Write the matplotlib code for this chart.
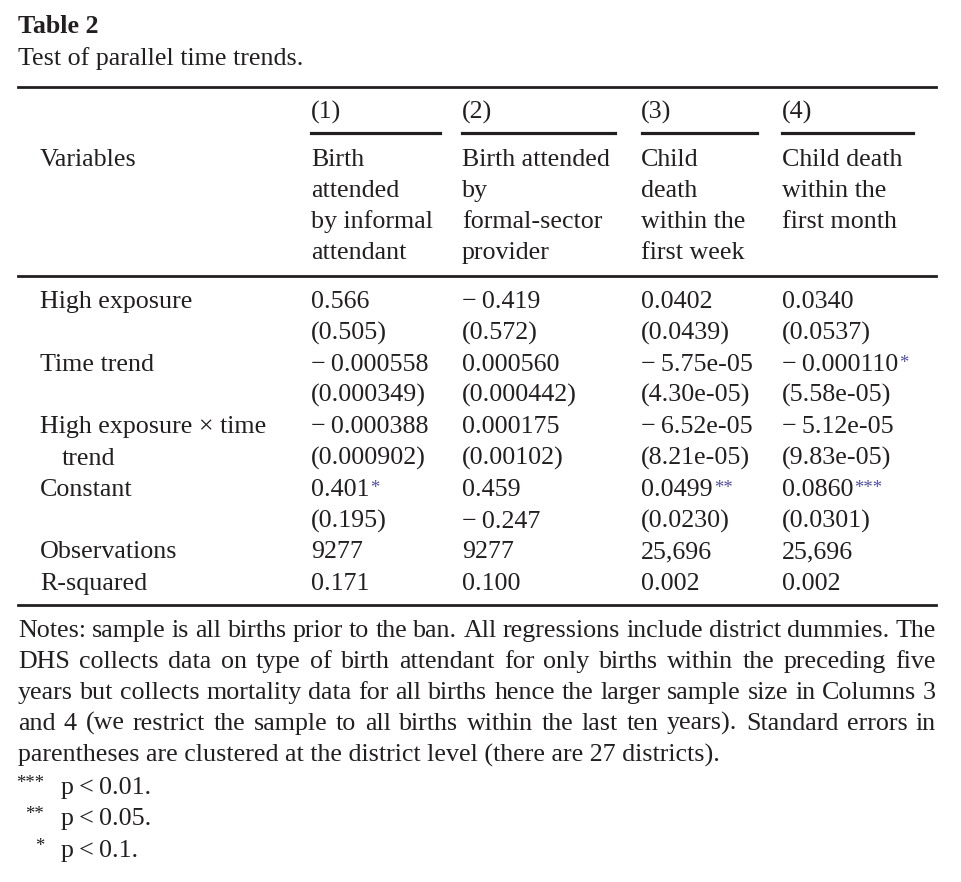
import matplotlib
matplotlib.use("Agg")
import matplotlib.pyplot as plt
from matplotlib.lines import Line2D

# ---------------- data ----------------
title = "Table 2"
subtitle = "Test of parallel time trends."
col_numbers = ["(1)", "(2)", "(3)", "(4)"]
col_headers = [
    ["Birth", "attended", "by informal", "attendant"],
    ["Birth attended", "by", "formal-sector", "provider"],
    ["Child", "death", "within the", "first week"],
    ["Child death", "within the", "first month"],
]
row_labels = ["High exposure", "Time trend", "High exposure \u00d7 time", "Constant"]
row_label_cont = ["", "", "trend", ""]

col1_coef = ["0.566", "\u22120.000558", "\u22120.000388", "0.401"]
col1_se = ["(0.505)", "(0.000349)", "(0.000902)", "(0.195)"]
col1_stars = ["", "", "", "*"]
col2_coef = ["\u22120.419", "0.000560", "0.000175", "0.459"]
col2_se = ["(0.572)", "(0.000442)", "(0.00102)", "\u22120.247"]
col2_stars = ["", "", "", ""]
col3_coef = ["0.0402", "\u22125.75e-05", "\u22126.52e-05", "0.0499"]
col3_se = ["(0.0439)", "(4.30e-05)", "(8.21e-05)", "(0.0230)"]
col3_stars = ["", "", "", "**"]
col4_coef = ["0.0340", "\u22120.000110", "\u22125.12e-05", "0.0860"]
col4_se = ["(0.0537)", "(5.58e-05)", "(9.83e-05)", "(0.0301)"]
col4_stars = ["", "*", "", "***"]
observations = ["9277", "9277", "25,696", "25,696"]
r_squared = ["0.171", "0.100", "0.002", "0.002"]

notes_lines = [
    "Notes: sample is all births prior to the ban. All regressions include district dummies. The",
    "DHS collects data on type of birth attendant for only births within the preceding five",
    "years but collects mortality data for all births hence the larger sample size in Columns 3",
    "and 4 (we restrict the sample to all births within the last ten years). Standard errors in",
    "parentheses are clustered at the district level (there are 27 districts).",
]
foot_stars = ["***", "**", "*"]
foot_text = ["p\u2009<\u20090.01.", "p\u2009<\u20090.05.", "p\u2009<\u20090.1."]

# ---------------- layout ----------------
W, H = 962, 882
fig = plt.figure(figsize=(W / 100, H / 100), dpi=100)
fig.patch.set_facecolor("white")
FONT = ["Liberation Serif", "DejaVu Serif"]
FS = 18.7
TXT = "#231f20"
STAR = "#5050a0"
renderer = fig.canvas.get_renderer()


def T(x, y, s, **kw):
    kw.setdefault("fontsize", FS)
    kw.setdefault("family", FONT)
    kw.setdefault("color", TXT)
    kw.setdefault("va", "baseline")
    kw.setdefault("ha", "left")
    return fig.text(x / W, 1 - y / H, s, **kw)


def width(s, **kw):
    t = T(0, 0, s, **kw)
    w = t.get_window_extent(renderer).width
    t.remove()
    return w


def hline(x0, x1, y, lw=2.0):
    fig.add_artist(Line2D([x0 / W, x1 / W], [1 - y / H, 1 - y / H],
                          color="#231f20", lw=lw, transform=fig.transFigure))


def value(x, y, s, stars=""):
    s = s.replace("\u2212", "\u2212\u2009")
    T(x, y, s)
    if stars:
        w = width(s)
        T(x + w + 1, y - 3, stars, fontsize=FS * 0.72, color=STAR)


# title
T(18, 33, title, fontweight="bold")
T(18, 65, subtitle)

LEFT, RIGHT = 18, 936
hline(LEFT, RIGHT, 87)

col_x = [311, 462, 641, 782]
col_rule = [(311, 440), (462, 615), (642, 757), (782, 913)]
for cx, num, (r0, r1) in zip(col_x, col_numbers, col_rule):
    T(cx, 119, num)
    hline(r0, r1, 133, lw=2.3)

head_base = [166, 197, 228, 259]
T(40, 166, "Variables")
for cx, lines in zip(col_x, col_headers):
    for yb, ln in zip(head_base, lines):
        T(cx, yb, ln)

hline(LEFT, RIGHT, 276)

row_base = [308, 339.5, 371, 402, 433.5, 465, 496, 527.5, 558.5, 590]
coefs = [col1_coef, col2_coef, col3_coef, col4_coef]
ses = [col1_se, col2_se, col3_se, col4_se]
stars = [col1_stars, col2_stars, col3_stars, col4_stars]
for i, lab in enumerate(row_labels):
    y1, y2 = row_base[2 * i], row_base[2 * i + 1]
    T(40, y1, lab)
    if row_label_cont[i]:
        T(62, y2, row_label_cont[i])
    for j, cx in enumerate(col_x):
        value(cx, y1, coefs[j][i], stars[j][i])
        value(cx, y2, ses[j][i])

T(40, row_base[8], "Observations")
T(40, row_base[9], "R-squared")
for j, cx in enumerate(col_x):
    T(cx, row_base[8], observations[j])
    T(cx, row_base[9], r_squared[j])

hline(LEFT, RIGHT, 605)

# notes (justified)
note_base = [637, 668, 699, 730, 762]
for k, (yb, line) in enumerate(zip(note_base, notes_lines)):
    words = line.split(" ")
    if k == len(notes_lines) - 1:
        T(LEFT, yb, line)
        continue
    ws = [width(wd) for wd in words]
    gap = (RIGHT - LEFT - sum(ws)) / (len(words) - 1)
    x = LEFT
    for wd, ww in zip(words, ws):
        T(x, yb, wd)
        x += ww + gap

foot_base = [794, 825, 857]
for yb, st, tx in zip(foot_base, foot_stars, foot_text):
    T(44, yb - 6, st, ha="right", fontsize=FS * 0.72)
    T(61, yb, tx)

fig.savefig("out.png", dpi=100, facecolor="white")
